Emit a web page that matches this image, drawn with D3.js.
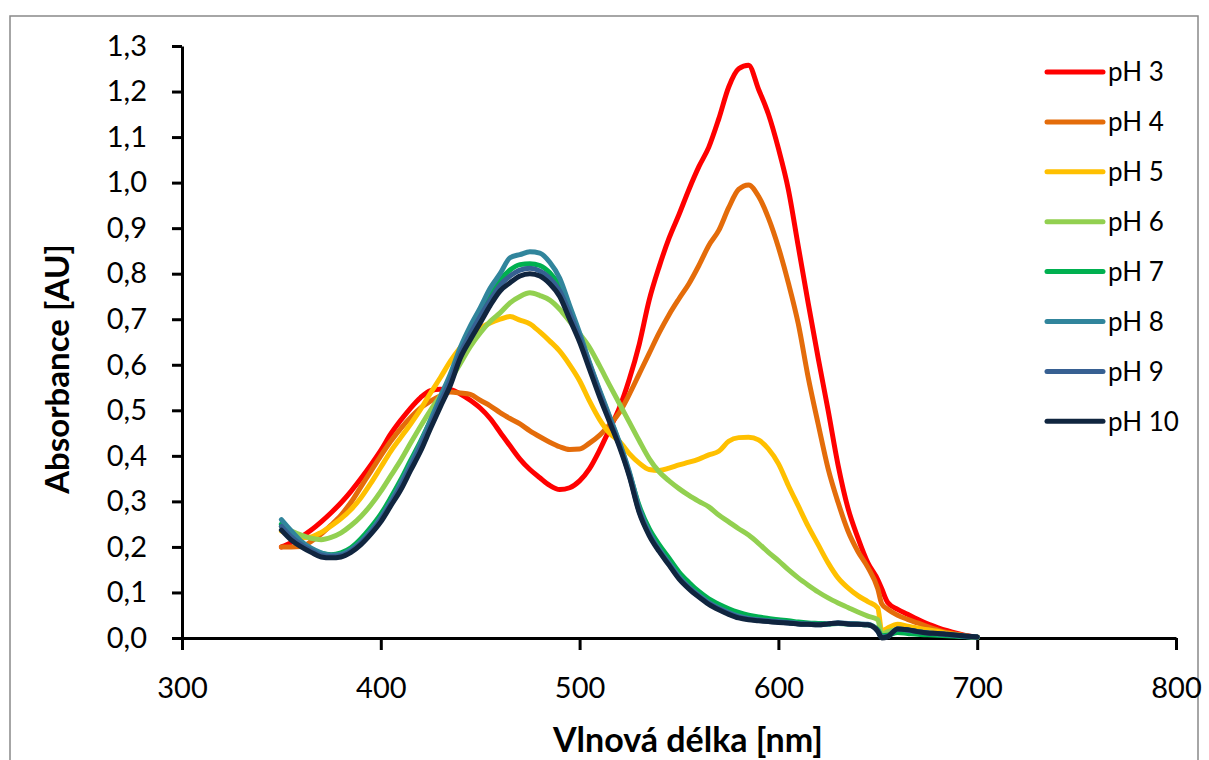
<!DOCTYPE html>
<html><head><meta charset="utf-8">
<script src="https://cdn.jsdelivr.net/npm/d3@7"></script>
<style>body{margin:0;background:#fff;} svg{display:block;font-family:Lato,"Open Sans",sans-serif;}</style>
</head><body><svg id="c" width="1209" height="760"></svg>
<script>
// wavelengths (nm)
const wavelengths = [350,355,360,365,370,375,380,385,390,395,400,405,410,415,420,425,430,435,440,445,450,455,460,465,470,475,480,485,490,495,500,505,510,515,520,525,530,535,540,545,550,555,560,565,570,575,580,585,590,595,600,605,610,615,620,625,630,635,640,645,650,652,655,660,665,670,675,680,685,690,695,700];
const seriesNames = ["pH 3","pH 4","pH 5","pH 6","pH 7","pH 8","pH 9","pH 10"];
const seriesColors = ["#FF0000","#E46C0A","#FFC000","#92D050","#00B050","#31859C","#376092","#10253F"];
const ph3 = [0.200,0.210,0.222,0.237,0.255,0.275,0.297,0.322,0.350,0.380,0.412,0.448,0.478,0.505,0.528,0.543,0.546,0.545,0.536,0.522,0.505,0.482,0.452,0.422,0.393,0.370,0.352,0.335,0.326,0.330,0.345,0.372,0.412,0.458,0.505,0.568,0.645,0.742,0.815,0.878,0.930,0.985,1.035,1.078,1.140,1.210,1.250,1.258,1.205,1.150,1.075,0.985,0.860,0.735,0.615,0.500,0.380,0.285,0.220,0.165,0.128,0.108,0.078,0.063,0.052,0.041,0.031,0.023,0.016,0.010,0.005,0.002];
const ph4 = [0.200,0.200,0.201,0.212,0.228,0.248,0.270,0.298,0.332,0.366,0.400,0.432,0.460,0.484,0.505,0.520,0.532,0.540,0.538,0.535,0.522,0.510,0.495,0.482,0.470,0.455,0.442,0.430,0.420,0.414,0.415,0.428,0.445,0.468,0.495,0.535,0.580,0.625,0.670,0.710,0.745,0.778,0.818,0.862,0.895,0.945,0.985,0.995,0.970,0.922,0.858,0.780,0.690,0.572,0.470,0.372,0.298,0.235,0.190,0.155,0.108,0.075,0.063,0.050,0.041,0.033,0.025,0.018,0.012,0.008,0.004,0.002];
const ph5 = [0.235,0.226,0.220,0.222,0.232,0.246,0.262,0.282,0.308,0.340,0.375,0.410,0.440,0.470,0.502,0.538,0.572,0.608,0.638,0.662,0.680,0.692,0.700,0.706,0.698,0.690,0.672,0.652,0.630,0.600,0.565,0.520,0.480,0.450,0.432,0.405,0.384,0.370,0.368,0.373,0.380,0.386,0.393,0.402,0.410,0.432,0.440,0.441,0.435,0.415,0.383,0.335,0.290,0.245,0.205,0.165,0.132,0.110,0.093,0.080,0.066,0.015,0.022,0.030,0.026,0.022,0.018,0.015,0.010,0.007,0.004,0.002];
const ph6 = [0.245,0.235,0.226,0.219,0.216,0.221,0.231,0.247,0.267,0.292,0.322,0.356,0.390,0.428,0.465,0.500,0.532,0.566,0.603,0.640,0.670,0.695,0.714,0.736,0.750,0.758,0.752,0.742,0.722,0.695,0.668,0.638,0.598,0.556,0.515,0.474,0.433,0.394,0.365,0.345,0.328,0.313,0.300,0.288,0.270,0.255,0.240,0.226,0.208,0.188,0.170,0.150,0.132,0.116,0.101,0.088,0.077,0.067,0.057,0.048,0.040,0.008,0.014,0.018,0.015,0.013,0.011,0.009,0.007,0.005,0.003,0.001];
const ph7 = [0.250,0.228,0.208,0.194,0.186,0.183,0.187,0.198,0.218,0.243,0.272,0.308,0.347,0.390,0.432,0.478,0.525,0.575,0.628,0.672,0.712,0.750,0.785,0.808,0.820,0.822,0.818,0.802,0.772,0.720,0.665,0.602,0.542,0.485,0.428,0.362,0.290,0.240,0.205,0.175,0.145,0.122,0.102,0.086,0.074,0.064,0.056,0.050,0.046,0.043,0.040,0.038,0.035,0.033,0.032,0.031,0.032,0.031,0.030,0.029,0.018,0.005,0.006,0.012,0.010,0.008,0.007,0.006,0.005,0.004,0.003,0.002];
const ph8 = [0.260,0.235,0.212,0.197,0.187,0.182,0.184,0.194,0.212,0.236,0.265,0.300,0.340,0.383,0.428,0.478,0.530,0.580,0.638,0.685,0.725,0.768,0.800,0.835,0.842,0.848,0.845,0.825,0.790,0.730,0.670,0.605,0.545,0.488,0.430,0.365,0.285,0.232,0.195,0.165,0.135,0.112,0.094,0.078,0.066,0.056,0.048,0.043,0.040,0.038,0.036,0.034,0.032,0.031,0.030,0.031,0.033,0.032,0.031,0.030,0.016,0.002,0.004,0.020,0.017,0.014,0.011,0.009,0.007,0.005,0.003,0.002];
const ph9 = [0.245,0.222,0.205,0.192,0.182,0.179,0.181,0.191,0.209,0.232,0.260,0.295,0.333,0.375,0.420,0.468,0.518,0.567,0.625,0.668,0.706,0.742,0.775,0.795,0.808,0.812,0.806,0.790,0.762,0.713,0.660,0.598,0.538,0.480,0.424,0.358,0.278,0.228,0.192,0.162,0.132,0.110,0.092,0.076,0.064,0.054,0.046,0.041,0.039,0.037,0.035,0.033,0.031,0.030,0.029,0.031,0.033,0.031,0.030,0.029,0.015,0.001,0.003,0.020,0.018,0.014,0.011,0.010,0.008,0.006,0.004,0.002];
const ph10 = [0.237,0.215,0.200,0.188,0.178,0.176,0.178,0.188,0.205,0.228,0.255,0.290,0.325,0.368,0.410,0.460,0.508,0.555,0.615,0.655,0.692,0.730,0.762,0.780,0.795,0.800,0.795,0.778,0.750,0.700,0.650,0.590,0.530,0.475,0.420,0.355,0.275,0.225,0.190,0.160,0.130,0.108,0.090,0.074,0.062,0.052,0.044,0.040,0.038,0.036,0.034,0.033,0.031,0.030,0.029,0.031,0.033,0.031,0.030,0.029,0.015,0.000,0.003,0.020,0.018,0.014,0.011,0.010,0.008,0.006,0.004,0.002];
const seriesValues = [ph3,ph4,ph5,ph6,ph7,ph8,ph9,ph10];
const xTicks = [300,400,500,600,700,800];
const yTicks = [0,0.1,0.2,0.3,0.4,0.5,0.6,0.7,0.8,0.9,1.0,1.1,1.2,1.3];
const xTitle = "Vlnová délka [nm]";
const yTitle = "Absorbance [AU]";

const svg = d3.select("#c");
const x = d3.scaleLinear().domain([300,800]).range([182,1176]);
const y = d3.scaleLinear().domain([0,1.3]).range([638,46]);

// chart frame
svg.append("rect").attr("x",10).attr("y",16).attr("width",1188).attr("height",800)
  .attr("fill","none").attr("stroke","#898989").attr("stroke-width",1.5);

// axes
const fmt = d => d3.format(".1f")(d).replace(".", ",");
const gy = svg.append("g").attr("transform","translate(182,0)")
  .call(d3.axisLeft(y).tickValues(yTicks).tickSize(10).tickSizeOuter(0).tickPadding(25).tickFormat(fmt));
const gx = svg.append("g").attr("transform","translate(0,638)")
  .call(d3.axisBottom(x).tickValues(xTicks).tickSize(12).tickSizeOuter(0).tickPadding(27).tickFormat(d3.format("d")));
[gy,gx].forEach(g=>{
  g.attr("font-family",null).attr("font-size",null);
  g.selectAll("path,line").attr("stroke","#000").attr("stroke-width",3);
  g.selectAll("text").attr("fill","#000").style("font-size","29px").style("font-family","Lato, 'Open Sans', sans-serif");
});

// series
const line = d3.line().x(d=>x(d[0])).y(d=>y(d[1])).curve(d3.curveMonotoneX);
seriesValues.forEach((vals,i)=>{
  const pts = wavelengths.map((w,j)=>[w,vals[j]]);
  svg.append("path").datum(pts).attr("d",line).attr("fill","none")
    .attr("stroke",seriesColors[i]).attr("stroke-width",5)
    .attr("stroke-linejoin","round").attr("stroke-linecap","round");
});

// legend
const lg = svg.append("g");
seriesNames.forEach((n,i)=>{
  const yy = 72 + i*49.9;
  lg.append("line").attr("x1",1047).attr("x2",1103).attr("y1",yy).attr("y2",yy)
    .attr("stroke",seriesColors[i]).attr("stroke-width",5).attr("stroke-linecap","round");
  lg.append("text").attr("x",1108).attr("y",yy).attr("dy","0.36em")
    .style("font-size","26px").attr("fill","#000").text(n);
});

// axis titles
svg.append("text").attr("transform","translate(57,369) rotate(-90)").attr("text-anchor","middle")
  .attr("dy","0.36em").style("font-size","33px").style("font-weight","bold").attr("fill","#000").text(yTitle);
svg.append("text").attr("x",688).attr("y",752).attr("text-anchor","middle")
  .style("font-size","34px").style("font-weight","bold").attr("fill","#000").text(xTitle);
</script></body></html>
